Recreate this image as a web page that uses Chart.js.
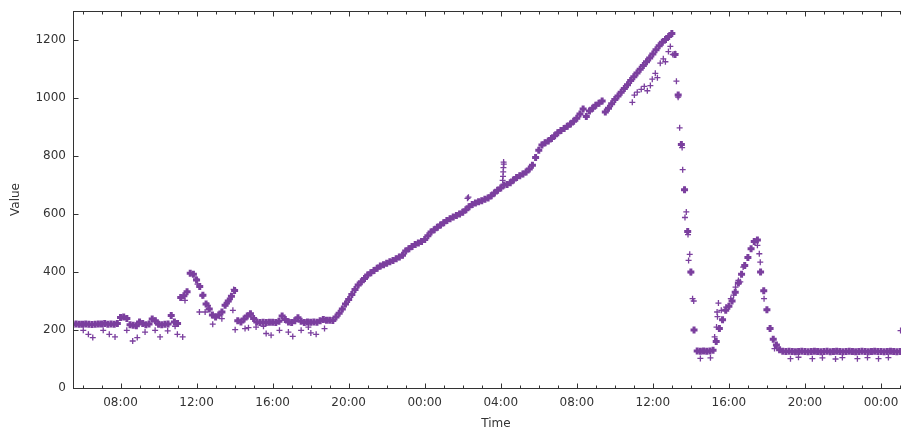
<!DOCTYPE html>
<html>
<head>
<meta charset="utf-8">
<script src="https://cdn.jsdelivr.net/npm/chart.js@4/dist/chart.umd.min.js"></script>
<style>
  html, body { margin: 0; padding: 0; background: #fff; overflow: hidden; }
  #wrap { width: 901px; height: 430px; overflow: hidden; }
</style>
</head>
<body>
<div id="wrap"><canvas id="chart" width="940" height="430"></canvas></div>
<script>
/*
Long scatter trace of a single value over ~45 hours,
drawn with "+" markers the way gnuplot does it.
*/

// x is hours counted from midnight of the first day
const startHour = 5.5;
const stepHours = 1 / 6;   // main trace read every 10 minutes

// main trace, one row per hour (from 05:30 on the first day)
const mainValues = [
  220, 221, 220,                      // 05
  220, 221, 220, 219, 220, 221,       // 06
  221, 222, 220, 221, 220, 222,       // 07
  243, 245, 240, 218, 216, 215,       // 08
  228, 222, 218, 221, 238, 232,       // 09
  220, 218, 220, 221, 250, 228,       // 10
  222, 312, 318, 332, 396, 392,       // 11
  372, 350, 320, 290, 272, 252,       // 12
  245, 252, 262, 285, 300, 316,       // 13
  336, 232, 228, 238, 248, 256,       // 14
  240, 228, 226, 227, 226, 227,       // 15
  227, 226, 230, 248, 236, 228,       // 16
  226, 232, 242, 230, 226, 228,       // 17
  227, 228, 227, 232, 236, 234,       // 18
  234, 233, 245, 258, 272, 290,       // 19
  305, 322, 340, 355, 366, 378,       // 20
  390, 397, 405, 413, 421, 425,       // 21
  430, 435, 440, 446, 452, 458,       // 22
  472, 480, 488, 495, 500, 505,       // 23
  512, 525, 538, 546, 554, 562,       // 00
  570, 578, 584, 590, 595, 600,       // 01
  606, 615, 625, 633, 638, 642,       // 02
  646, 651, 655, 663, 672, 682,       // 03
  690, 700, 702, 708, 717, 726,       // 04
  732, 738, 745, 755, 768, 795,       // 05
  820, 838, 846, 852, 860, 870,       // 06
  880, 888, 895, 903, 910, 920,       // 07
  930, 945, 962, 936, 955, 965,       // 08
  975, 982, 990, 952, 965, 980,       // 09
  995, 1007, 1020, 1033, 1046, 1060,  // 10
  1073, 1086, 1099, 1112, 1125, 1138, // 11
  1152, 1166, 1180, 1192, 1202, 1212, // 12
  1222, 1150, 1010, 840, 684, 540,    // 13
  400, 200, 128, 127, 128, 127,       // 14
  128, 130, 160, 205, 235, 268,       // 15
  282, 300, 330, 362, 392, 422,       // 16
  450, 480, 505, 510, 400, 335,       // 17
  270, 205, 168, 148, 132, 127,       // 18
  126, 127, 126, 125, 126, 127,       // 19
  126, 125, 126, 127, 126, 125,       // 20
  126, 127, 125, 126, 127, 126,       // 21
  125, 126, 127, 126, 125, 126,       // 22
  127, 126, 125, 126, 127, 126,       // 23
  126, 125, 126, 127, 126, 125,       // 00
  126, 127, 126, 125, 126, 127,       // 01
  126                                 // 02
];

// stray readings
const strayHours = [
  6.04, 6.31, 6.54, 7.09, 7.41, 7.71, 8.33, 8.64, 8.88, 9.29, 9.82, 10.08,
  10.48, 10.87, 10.99, 11.27, 11.39, 11.97, 12.05, 12.15, 12.3, 12.45, 12.6,
  12.85, 13.33, 13.59, 13.75, 13.91, 13.95, 14.03, 14.55, 14.73, 15.13, 15.52,
  15.66, 15.92, 16.36, 16.83, 17.06, 17.5, 17.88, 18.01, 18.29, 18.73,
  26.25, 26.3, 28.1, 28.12, 28.13, 28.14, 28.15, 28.16,
  34.92, 35.03, 35.18, 35.39, 35.55, 35.71, 35.87, 35.97, 36.13, 36.24, 36.39,
  36.55, 36.66, 36.82, 36.92, 37.05,
  37.18, 37.24, 37.33, 37.41, 37.54, 37.57, 37.66, 37.69, 37.76, 37.85, 37.88,
  37.94, 38.01, 38.09, 38.15,
  38.5, 39.03, 39.25, 39.35, 39.38, 39.4, 39.45, 39.6, 39.85, 40.1, 40.25,
  40.35, 40.5, 40.6, 40.75, 41.5, 41.6, 41.65, 41.85, 42.4,
  43.24, 43.66, 44.39, 44.92, 45.61, 45.97, 46.76, 47.29, 47.87, 48.39, 49.03
];
const strayValues = [
  199, 185, 174, 199, 185, 176, 199, 162, 174, 193, 199, 176,
  197, 213, 185, 176, 302, 375, 358, 262, 318, 262, 285,
  220, 239, 291, 305, 268, 340, 201, 205, 208, 210, 213,
  188, 182, 199, 193, 178, 199, 210, 190, 185, 205,
  654, 658, 716, 730, 745, 760, 779, 772,
  985, 1010, 1020, 1030, 1040, 1025, 1043, 1065, 1085, 1070, 1120,
  1135, 1125, 1160, 1178, 1150,
  1153, 1058, 1003, 897, 829, 753, 684, 588, 607, 529, 440,
  461, 398, 308, 300,
  102, 104, 176, 210, 262, 246, 293, 268, 279, 308, 320,
  348, 371, 366, 417, 492, 463, 434, 308, 136,
  101, 106, 101, 104, 100, 105, 101, 105, 101, 105, 198
];

// axis ticks
const yTicks = [0, 200, 400, 600, 800, 1000, 1200];
const xTicks = [8, 12, 16, 20, 24, 28, 32, 36, 40, 44, 48];

const purple = "#7b3f9e";
const axisColor = "#333";
const font = { family: "DejaVu Sans", size: 12 };


// frame round the plot with gnuplot style inward ticks
const frame = {
  id: "frame",
  afterDatasetsDraw(chart) {
    const { ctx, chartArea: a, scales: { x, y } } = chart;
    ctx.save();
    ctx.strokeStyle = axisColor;
    ctx.lineWidth = 1;
    const l = Math.round(a.left) + 0.5, r = Math.round(a.right) + 0.5;
    const t = Math.round(a.top) + 0.5, b = Math.round(a.bottom) + 0.5;
    ctx.strokeRect(l, t, r - l, b - t);
    ctx.beginPath();
    for (let h = Math.ceil(x.min); h <= x.max; h++) {
      const px = Math.round(x.getPixelForValue(h)) + 0.5;
      const len = h % 4 === 0 ? 5 : 3;
      ctx.moveTo(px, b); ctx.lineTo(px, b - len);
      ctx.moveTo(px, t); ctx.lineTo(px, t + len);
    }
    yTicks.forEach(v => {
      const py = Math.round(y.getPixelForValue(v)) + 0.5;
      ctx.moveTo(l, py); ctx.lineTo(l + 5, py);
      ctx.moveTo(r, py); ctx.lineTo(r - 5, py);
    });
    ctx.stroke();
    ctx.restore();
  }
};


const mainPoints = mainValues.map((v, i) => ({ x: startHour + i * stepHours, y: v }));
const strayPoints = strayHours.map((h, i) => ({ x: h, y: strayValues[i] }));

new Chart(document.getElementById("chart"), {
  type: "scatter",
  data: {
    datasets: [
      {
        data: mainPoints,
        pointStyle: "cross",
        pointRadius: 3.5,
        borderWidth: 3,
        borderColor: purple,
        backgroundColor: purple
      },
      {
        data: strayPoints,
        pointStyle: "cross",
        pointRadius: 3,
        borderWidth: 1.3,
        borderColor: purple,
        backgroundColor: purple
      }
    ]
  },
  options: {
    responsive: false,
    animation: false,
    layout: { padding: { top: 11, right: 21, left: 0, bottom: 0 } },
    plugins: { legend: { display: false }, tooltip: { enabled: false } },
    scales: {
      x: {
        type: "linear",
        min: startHour,
        max: 50,
        grid: { display: false, drawTicks: false },
        border: { display: false },
        afterBuildTicks: s => { s.ticks = xTicks.map(v => ({ value: v })); },
        afterFit: s => { s.height = 42; s.paddingLeft = 0; s.paddingRight = 0; },
        ticks: {
          color: axisColor, font, padding: 8, maxRotation: 0,
          callback: v => String(v % 24).padStart(2, "0") + ":00"
        },
        title: {
          display: true, text: "Time", color: axisColor,
          font: { ...font, lineHeight: 1 }, padding: { top: 0, bottom: 0 }
        }
      },
      y: {
        min: 0,
        max: 1300,
        grid: { display: false, drawTicks: false },
        border: { display: false },
        afterBuildTicks: s => { s.ticks = yTicks.map(v => ({ value: v })); },
        afterFit: s => { s.width = 73; s.paddingTop = 0; s.paddingBottom = 0; },
        ticks: { color: axisColor, font, padding: 7, callback: v => String(v) },
        title: { display: true, text: "Value", color: axisColor, font, padding: { top: 9, bottom: 0 } }
      }
    }
  },
  plugins: [frame]
});
</script>
</body>
</html>
